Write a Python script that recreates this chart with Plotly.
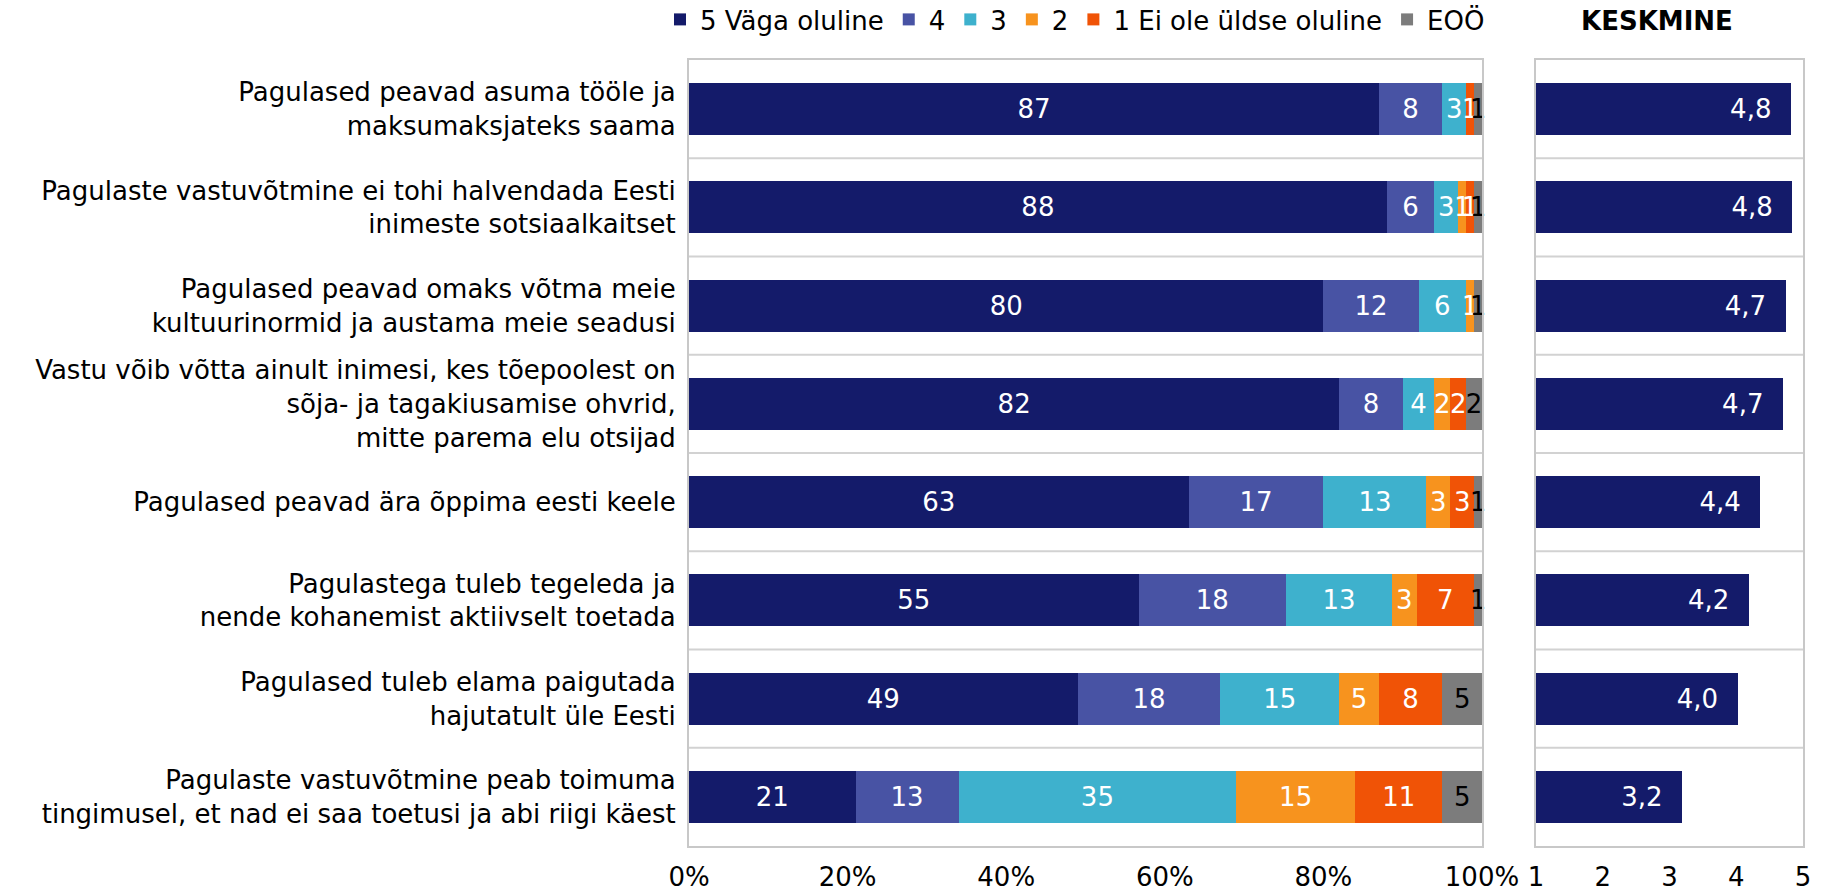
import plotly.graph_objects as go

categories = [
    "Pagulased peavad asuma tööle ja<br>maksumaksjateks saama",
    "Pagulaste vastuvõtmine ei tohi halvendada Eesti<br>inimeste sotsiaalkaitset",
    "Pagulased peavad omaks võtma meie<br>kultuurinormid ja austama meie seadusi",
    "Vastu võib võtta ainult inimesi, kes tõepoolest on<br>sõja- ja tagakiusamise ohvrid,<br>mitte parema elu otsijad",
    "Pagulased peavad ära õppima eesti keele",
    "Pagulastega tuleb tegeleda ja<br>nende kohanemist aktiivselt toetada",
    "Pagulased tuleb elama paigutada<br>hajutatult üle Eesti",
    "Pagulaste vastuvõtmine peab toimuma<br>tingimusel, et nad ei saa toetusi ja abi riigi käest",
]
series_names = ["5 Väga oluline", "4", "3", "2", "1 Ei ole üldse oluline", "EOÖ"]
v5 = [87, 88, 80, 82, 63, 55, 49, 21]
v4 = [8, 6, 12, 8, 17, 18, 18, 13]
v3 = [3, 3, 6, 4, 13, 13, 15, 35]
v2 = [0, 1, 1, 2, 3, 3, 5, 15]
v1 = [1, 1, 0, 2, 3, 7, 8, 11]
veoo = [1, 1, 1, 2, 1, 1, 5, 5]
means = [4.82, 4.84, 4.74, 4.70, 4.36, 4.19, 4.02, 3.19]
pct_ticks = ["0%", "20%", "40%", "60%", "80%", "100%"]
mean_ticks = [1, 2, 3, 4, 5]

colors = ["#141B6A", "#4853A4", "#3EB1CD", "#F7931E", "#F05306", "#7C7C7C"]
text_colors = ["white", "white", "white", "white", "white", "black"]
FONT = "DejaVu Sans"
FS = 26

all_series = [v5, v4, v3, v2, v1, veoo]
totals = [sum(s[i] for s in all_series) for i in range(len(categories))]

fig = go.Figure()
for name, vals, col, tcol in zip(series_names, all_series, colors, text_colors):
    norm = [v / t * 100 for v, t in zip(vals, totals)]
    fig.add_trace(go.Bar(
        y=categories, x=norm, name=name, orientation="h",
        marker=dict(color=col, line=dict(width=0)),
        text=[str(v) if v > 0 else "" for v in vals],
        textposition="inside", insidetextanchor="middle", textangle=0,
        constraintext="none", cliponaxis=False,
        textfont=dict(color=tcol, size=FS, family=FONT),
        hoverinfo="skip", xaxis="x", yaxis="y",
    ))

fig.add_trace(go.Bar(
    y=categories, x=[m - 1 for m in means], base=1, orientation="h",
    marker=dict(color="#141B6A", line=dict(width=0)),
    text=[("%.1f" % m).replace(".", ",") + "\u00a0\u00a0" for m in means],
    textposition="inside", insidetextanchor="end", textangle=0,
    constraintext="none",
    textfont=dict(color="white", size=FS, family=FONT),
    showlegend=False, hoverinfo="skip", xaxis="x2", yaxis="y2",
))

ytop = 1 - 60 / 894
ybot = 1 - 846 / 894
frame = "#C8C8C8"

shapes = []
for k in range(len(categories) - 1):
    for xr, yr in (("x domain", "y"), ("x2 domain", "y2")):
        shapes.append(dict(type="line", xref=xr, yref=yr, x0=0, x1=1,
                           y0=k + 0.5, y1=k + 0.5,
                           line=dict(color="#D2D2D2", width=2), layer="below"))

fig.update_layout(
    template="none",
    width=1825, height=894,
    margin=dict(l=0, r=0, t=0, b=0, autoexpand=False),
    paper_bgcolor="white", plot_bgcolor="white",
    barmode="stack", bargap=0.47,
    font=dict(family=FONT, size=FS, color="black"),
    showlegend=True,
    legend=dict(orientation="h", x=1075 / 1825, xanchor="center", y=1 + 4 / 894, yanchor="top",
                font=dict(size=FS, family=FONT), traceorder="normal",
                itemwidth=30, tracegroupgap=0, bgcolor="rgba(0,0,0,0)"),
    xaxis=dict(domain=[689 / 1825, 1482 / 1825], range=[0, 100], automargin=False,
               tickvals=[0, 20, 40, 60, 80, 100], ticktext=pct_ticks,
               showgrid=False, zeroline=False, showline=True, mirror=True,
               linecolor=frame, linewidth=2, ticks="", ticklabelstandoff=7,
               tickfont=dict(size=FS), fixedrange=True),
    yaxis=dict(domain=[ybot, ytop], anchor="x", categoryorder="array", automargin=False,
               categoryarray=categories, autorange="reversed",
               showgrid=False, zeroline=False, showline=True, mirror=True,
               linecolor=frame, linewidth=2, ticks="", ticklabelstandoff=6,
               tickfont=dict(size=FS)),
    xaxis2=dict(domain=[1536 / 1825, 1803 / 1825], range=[1, 5], anchor="y2",
                automargin=False,
                tickvals=mean_ticks, showgrid=False, zeroline=False,
                showline=True, mirror=True, linecolor=frame, linewidth=2,
                ticks="", ticklabelstandoff=7, tickfont=dict(size=FS)),
    yaxis2=dict(domain=[ybot, ytop], anchor="x2", matches="y", automargin=False,
                categoryorder="array", categoryarray=categories,
                autorange="reversed", showticklabels=False,
                showgrid=False, zeroline=False, showline=True, mirror=True,
                linecolor=frame, linewidth=2, ticks=""),
    shapes=shapes,
    annotations=[dict(text="<b>KESKMINE</b>", xref="paper", yref="paper",
                      x=1657 / 1825, y=1 - 21 / 894, xanchor="center",
                      yanchor="middle", showarrow=False,
                      font=dict(size=FS, family=FONT, color="black"))],
)

fig.write_html(
    "out.html",
    config={"displayModeBar": False},
    post_script="document.body.style.margin='0';document.body.style.padding='0';"
                "document.documentElement.style.overflow='hidden';"
                "document.body.style.overflow='hidden';",
)
